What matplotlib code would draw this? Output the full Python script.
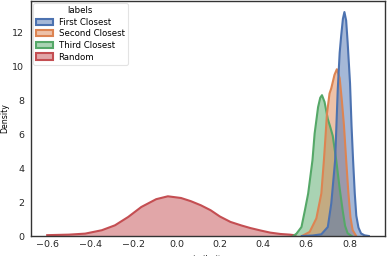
import numpy as np
import matplotlib
matplotlib.use("Agg")
from matplotlib import pyplot as plt
from matplotlib.patches import Patch

# density curves (x = similarity, y = density)
labels = ["First Closest", "Second Closest", "Third Closest", "Random"]
colors = ["#4C72B0", "#DD8452", "#55A868", "#C44E52"]

first_x = [0.58, 0.63, 0.67, 0.70, 0.716, 0.734, 0.746, 0.755, 0.762, 0.770, 0.777,
           0.785, 0.792, 0.803, 0.81, 0.817, 0.825, 0.832, 0.842, 0.854, 0.87, 0.89]
first_y = [0.0, 0.03, 0.1, 0.53, 1.91, 4.47, 8.6, 10.8, 11.8, 12.8, 13.2,
           12.7, 11.4, 9.0, 6.5, 4.5, 2.5, 1.2, 0.5, 0.15, 0.04, 0.0]

second_x = [0.58, 0.616, 0.647, 0.670, 0.682, 0.688, 0.696, 0.708, 0.716, 0.731, 0.742,
            0.755, 0.765, 0.775, 0.785, 0.795, 0.805, 0.815, 0.83]
second_y = [0.0, 0.24, 1.04, 2.5, 4.47, 5.6, 7.2, 8.4, 8.7, 9.5, 9.83,
            9.3, 8.0, 6.5, 4.5, 2.6, 1.1, 0.35, 0.03]

third_x = [0.54, 0.555, 0.578, 0.594, 0.609, 0.629, 0.639, 0.655, 0.665, 0.673,
           0.685, 0.700, 0.712, 0.723, 0.739, 0.755, 0.769, 0.78, 0.792, 0.81]
third_y = [0.0, 0.14, 0.53, 1.52, 2.5, 4.47, 6.04, 7.6, 8.15, 8.3,
           7.9, 6.9, 6.4, 5.9, 4.47, 2.8, 1.5, 0.6, 0.16, 0.0]

random_x = [-0.60, -0.50, -0.424, -0.347, -0.286, -0.225, -0.164, -0.095, -0.041, 0.020,
            0.066, 0.112, 0.157, 0.20, 0.249, 0.30, 0.341, 0.39, 0.433, 0.48, 0.525, 0.55]
random_y = [0.05, 0.08, 0.14, 0.34, 0.63, 1.12, 1.71, 2.17, 2.34, 2.24,
            2.05, 1.81, 1.52, 1.15, 0.83, 0.62, 0.47, 0.32, 0.2, 0.12, 0.08, 0.04]

curves = [(first_x, first_y), (second_x, second_y), (third_x, third_y), (random_x, random_y)]

fig = plt.figure(figsize=(3.87, 2.56), dpi=100)
ax = fig.add_axes([31/387, 1 - 236/256, 354/387, 235/256])

# draw last label first so First Closest ends up on top
for (xs, ys), c in reversed(list(zip(curves, colors))):
    ax.fill_between(xs, ys, 0, facecolor=c, alpha=0.5, edgecolor="none")
    ax.plot(xs, ys, color=c, lw=1.5)

ax.set_xlim(-0.675, 0.965)
ax.set_ylim(0, 13.85)
ax.set_xticks([-0.6, -0.4, -0.2, 0.0, 0.2, 0.4, 0.6, 0.8])
ax.set_yticks([0, 2, 4, 6, 8, 10, 12])
ax.tick_params(length=0, labelsize=6.8, colors="#262626")
ax.tick_params(axis="y", pad=5)
ax.tick_params(axis="x", pad=3)
for s in ax.spines.values():
    s.set_color("#333333")
    s.set_linewidth(1.0)

ax.set_ylabel("Density", fontsize=5.6, labelpad=2)
ax.set_xlabel("similarity", fontsize=5.6, labelpad=4)

handles = [Patch(facecolor=matplotlib.colors.to_rgba(c, 0.5), edgecolor=c, lw=1.5)
           for c in colors]
leg = ax.legend(handles, labels, title="labels", loc="upper left", fontsize=6.2,
                title_fontsize=6.2, frameon=True, fancybox=True, borderpad=0.35,
                labelspacing=0.3, handlelength=2.0, handleheight=0.7, handletextpad=0.6,
                borderaxespad=0.25)
leg.get_frame().set_edgecolor("#dddddd")
leg.get_frame().set_linewidth(0.8)

fig.savefig("out.png", dpi=100)
